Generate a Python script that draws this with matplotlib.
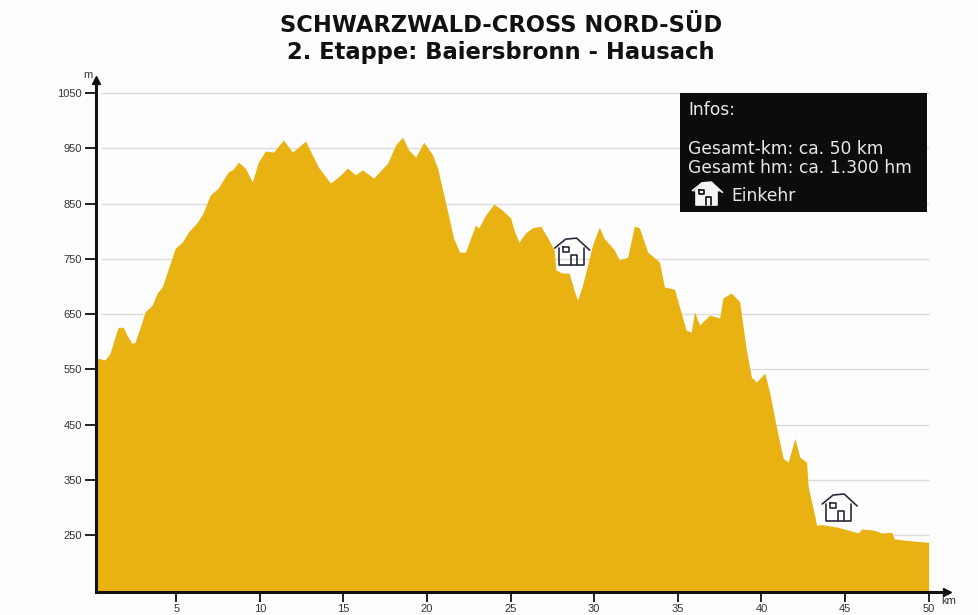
import matplotlib
matplotlib.use('Agg')
import matplotlib.pyplot as plt
from matplotlib.lines import Line2D
from matplotlib.patches import Polygon, Rectangle

# profile
km = [0.2, 0.32, 0.74, 1.04, 1.22, 1.52, 1.82, 2.12, 2.36, 2.54, 2.84, 3.14, 3.56, 3.86, 4.16,
      4.34, 4.64, 4.94, 5.36, 5.72, 6.26, 6.61, 7.03, 7.51, 8.11, 8.41, 8.71, 9.13, 9.55,
      9.91, 10.33, 10.81, 11.41, 11.95, 12.73, 13.14, 13.5, 14.22, 14.7, 15.24, 15.72, 16.14,
      16.8, 17.64, 18.12, 18.54, 18.9, 19.32, 19.8, 20.33, 20.63, 21.1, 21.59, 21.95, 22.3,
      22.6, 22.9, 23.1, 23.5, 24.0, 24.5, 25.0, 25.2, 25.5, 25.9, 26.3, 26.8, 27.2, 27.6,
      27.7, 28.1, 28.5, 28.8, 29.0, 29.3, 29.9, 30.3, 30.6, 31.2, 31.5, 32.0, 32.4, 32.7,
      33.2, 33.9, 34.2, 34.8, 35.1, 35.5, 35.8, 36.0, 36.3, 36.9, 37.5, 37.7, 38.2, 38.7,
      39.1, 39.4, 39.7, 40.2, 40.5, 40.9, 41.3, 41.6, 42.0, 42.3, 42.7, 42.8, 43.2, 43.3,
      43.6, 44.6, 45.2, 45.8, 46.0, 46.7, 47.2, 47.8, 47.95, 49.15, 50.0]
hoehe = [566, 570, 567, 579, 597, 626, 626, 608, 597, 599, 626, 654, 666, 688, 699,
         715, 742, 769, 780, 798, 816, 833, 865, 878, 907, 912, 925, 914, 889,
         925, 945, 943, 965, 943, 963, 938, 916, 887, 898, 914, 902, 911,
         896, 923, 956, 970, 947, 934, 961, 938, 914, 853, 787, 762, 762,
         787, 811, 806, 829, 849, 838, 824, 802, 780, 797, 806, 809, 789, 766,
         730, 724, 724, 693, 675, 702, 775, 807, 787, 766, 748, 753, 809, 806,
         762, 744, 699, 695, 663, 621, 617, 654, 630, 648, 643, 679, 688, 672,
         585, 536, 527, 543, 507, 445, 389, 382, 425, 391, 382, 337, 283, 268,
         269, 264, 259, 254, 261, 259, 254, 255, 243, 239, 237]

y_ticks = [250, 350, 450, 550, 650, 750, 850, 950, 1050]
x_ticks = [5, 10, 15, 20, 25, 30, 35, 40, 45, 50]
einkehr_km = [28.65, 44.65]
einkehr_m = [762, 299]

titel = ['SCHWARZWALD-CROSS NORD-SÜD', '2. Etappe: Baiersbronn - Hausach']
infos = ['Infos:', 'Gesamt-km: ca. 50 km', 'Gesamt hm: ca. 1.300 hm', 'Einkehr']

W, H = 979, 615
bg = '#fdfdfd'
gelb = '#e8b213'


def to_fig(xs, ys, cx, cy, scale):
    # px offsets around (cx, cy) -> figure fraction, y of the offsets points up
    return [(cx + x * scale) / W for x in xs], [1 - (cy - y * scale) / H for y in ys]


def draw_house(fig, cx, cy, color, scale=1.0, lw=1.2, solid=False, inner=None):
    # small house icon, (cx, cy) in px of the picture
    inner = inner or color

    def seg(xs, ys, c=color, w=lw):
        fx, fy = to_fig(xs, ys, cx, cy, scale)
        fig.add_artist(Line2D(fx, fy, color=c, lw=w, transform=fig.transFigure, zorder=7,
                              solid_capstyle='round'))

    def area(xs, ys):
        fx, fy = to_fig(xs, ys, cx, cy, scale)
        fig.add_artist(Polygon(list(zip(fx, fy)), closed=True, facecolor=color, edgecolor='none',
                               transform=fig.transFigure, zorder=6))

    if solid:
        area([-13, 12, 12, -13], [-13, -13, 5, 5])
        area([-16, -6, 6, 16], [3, 13, 14, 3])
    seg([-13, -13, 12, 12], [4, -13, -13, 4])
    seg([-17, -6, 5, 18], [4, 13, 14, 2])
    seg([-9, -9, -3, -3, -9], [5, 0, 0, 5, 5], c=inner)
    seg([-1, -1, 5, 5], [-13, -3, -3, -13], c=inner)


fig = plt.figure(figsize=(W / 100, H / 100), dpi=100, facecolor=bg)

# axes frame in px of the picture
left, right, top, bottom = 96, 947, 80, 592
ax = fig.add_axes([left / W, 1 - bottom / H, (right - left) / W, (bottom - top) / H], facecolor=bg)
ax.set_xlim(0.2, 51.1)
ax.set_ylim(147, 1073.5)

ax.hlines(y_ticks, 0.5, 50, color='#dcdcdc', lw=1.0, zorder=1)
ax.fill_between(km, hoehe, 147, color=gelb, lw=0, zorder=2)

for name in ('top', 'right'):
    ax.spines[name].set_visible(False)
for name in ('left', 'bottom'):
    ax.spines[name].set_linewidth(2.2)
    ax.spines[name].set_color('#111111')
    ax.spines[name].set_zorder(5)

ax.set_xticks(x_ticks)
ax.set_yticks(y_ticks)
ax.tick_params(axis='y', length=8, width=1.4, color='#222222', pad=2, labelsize=8,
               labelcolor='#333333')
ax.tick_params(axis='x', length=7, width=1.4, color='#222222', pad=2, labelsize=8,
               labelcolor='#333333')
for lab in ax.get_xticklabels() + ax.get_yticklabels():
    lab.set_family('Liberation Sans')

# axis arrows and units
ax.plot(0, 1, marker='^', ms=6, color='#111111', transform=ax.transAxes, clip_on=False, zorder=6)
ax.plot(1, 0, marker='>', ms=6, color='#111111', transform=ax.transAxes, clip_on=False, zorder=6)
fig.text(88 / W, 1 - 75 / H, 'm', fontsize=8, color='#333333', ha='center', va='center',
         family='Liberation Sans')
fig.text(949 / W, 1 - 601 / H, 'km', fontsize=8, color='#333333', ha='center', va='center',
         family='Liberation Sans')

# title
fig.text(501 / W, 1 - 25 / H, titel[0], fontsize=16.3, fontweight='bold', color='#111111',
         ha='center', va='center')
fig.text(501 / W, 1 - 52 / H, titel[1], fontsize=16.3, fontweight='bold', color='#111111',
         ha='center', va='center')

# info box
fig.add_artist(Rectangle((680 / W, 1 - 212 / H), 247 / W, 119 / H, transform=fig.transFigure,
                         facecolor='#0c0c0c', edgecolor='none', zorder=4))
for txt, xp, yp in zip(infos, [688, 688, 688, 731], [110, 149, 168, 196]):
    fig.text(xp / W, 1 - yp / H, txt, fontsize=12.3, color='#e8e8e8', ha='left', va='center', zorder=5)

for xk, ym in zip(einkehr_km, einkehr_m):
    px, py = ax.transData.transform((xk, ym))
    draw_house(fig, px, H - py, '#2a2a3a')
draw_house(fig, 707, 194, '#f4f4f4', scale=0.85, solid=True, inner='#0c0c0c')

fig.savefig('out.png', dpi=100, facecolor=bg)
